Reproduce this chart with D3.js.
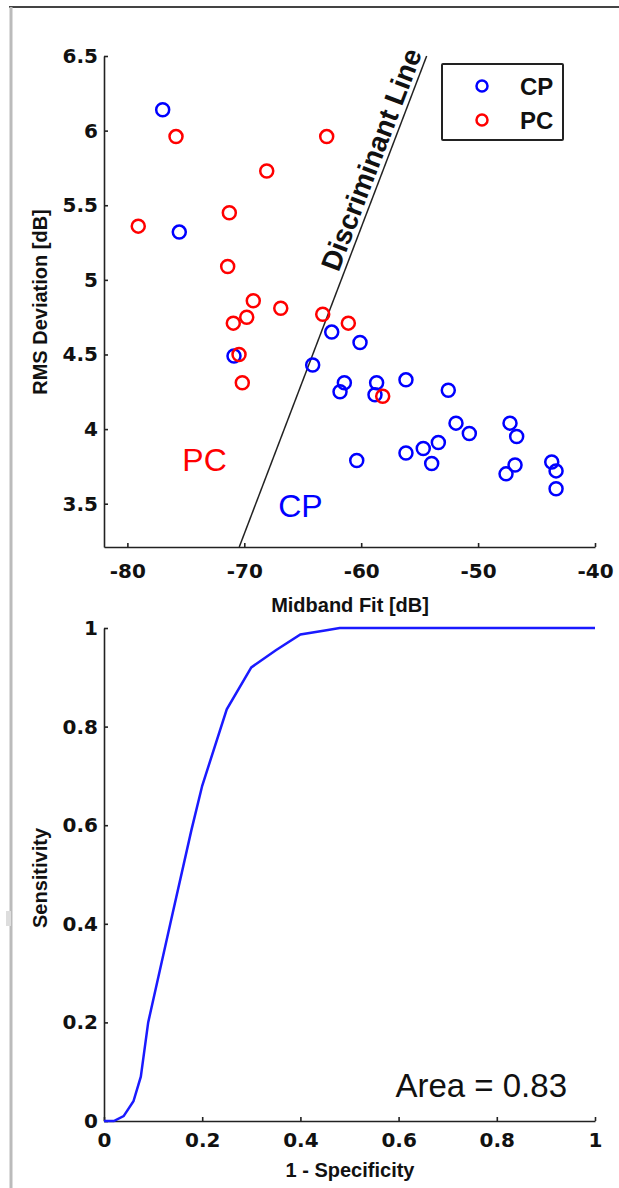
<!DOCTYPE html>
<html lang="en">
<head>
    <meta charset="UTF-8">
    <title>Midband Fit vs RMS Deviation and ROC</title>
    <script src="https://d3js.org/d3.v7.min.js"></script>
    <style>
        body { margin: 0; background: #fff; }
        svg { display: block; font-family: "Liberation Sans", Arial, Helvetica, sans-serif; }
        .axis path, .axis line { stroke: #222; stroke-width: 1.6; }
        .axis text { font-family: "DejaVu Sans", sans-serif; font-size: 20px; font-weight: bold; fill: #111; }
        .label { font-size: 20px; font-weight: bold; fill: #111; }
    </style>
</head>
<body>
    <div id="chart"></div>

    <script>
        const width = 619;
        const height = 1188;

        // scatter data: midband fit [dB] vs RMS deviation [dB]
        const cpMidband = [-76.98, -75.56, -70.88, -62.52, -60.10, -64.15, -61.44, -61.81, -58.68, -58.82,
                           -56.17, -52.55, -51.89, -50.75, -47.27, -46.70, -60.38, -56.17, -54.69, -53.40,
                           -53.97, -46.84, -47.61, -43.70, -43.33, -43.33];
        const cpRms     = [6.14, 5.32, 4.49, 4.65, 4.58, 4.43, 4.31, 4.25, 4.31, 4.23,
                           4.33, 4.26, 4.04, 3.97, 4.04, 3.95, 3.79, 3.84, 3.87, 3.91,
                           3.77, 3.76, 3.70, 3.78, 3.72, 3.60];
        const pcMidband = [-75.84, -62.95, -68.08, -71.28, -79.07, -71.42, -69.23, -66.88, -69.79, -70.94,
                           -63.29, -61.10, -70.45, -70.17, -58.16];
        const pcRms     = [5.96, 5.96, 5.73, 5.45, 5.36, 5.09, 4.86, 4.81, 4.75, 4.71,
                           4.77, 4.71, 4.50, 4.31, 4.22];

        // discriminant line end points
        const discMidband = [-70.43, -54.40];
        const discRms = [3.21, 6.50];

        // ROC curve
        const rocFpr = [0, 0.02, 0.04, 0.06, 0.075, 0.09, 0.135, 0.178, 0.2, 0.25, 0.3, 0.35, 0.4, 0.45, 0.48, 1];
        const rocTpr = [0, 0, 0.01, 0.04, 0.09, 0.20, 0.40, 0.59, 0.68, 0.835, 0.92, 0.955, 0.987, 0.995, 1, 1];

        const topXTicks = [-80, -70, -60, -50, -40];
        const topYTicks = [3.5, 4, 4.5, 5, 5.5, 6, 6.5];
        const rocTicks = [0, 0.2, 0.4, 0.6, 0.8, 1];

        const svg = d3.select("#chart")
                      .append("svg")
                      .attr("width", width)
                      .attr("height", height);

        // page frame
        svg.append("line").attr("x1", 9).attr("x2", width).attr("y1", 7).attr("y2", 7)
           .attr("stroke", "#444").attr("stroke-width", 2);
        svg.append("line").attr("x1", 11).attr("x2", 11).attr("y1", 7).attr("y2", height)
           .attr("stroke", "#bbb").attr("stroke-width", 3);
        svg.append("rect").attr("x", 6).attr("y", 911).attr("width", 5).attr("height", 15)
           .attr("fill", "#ddd");

        // ---- top scatter plot ----
        const x1 = d3.scaleLinear().domain([-82, -40]).range([104, 595]);
        const y1 = d3.scaleLinear().domain([3.21, 6.5]).range([547, 56]);

        svg.append("g")
           .attr("class", "axis")
           .attr("transform", "translate(0,547)")
           .call(d3.axisBottom(x1).tickValues(topXTicks).tickSize(-4).tickSizeOuter(0)
                   .tickPadding(17).tickFormat(d => String(d)));

        svg.append("g")
           .attr("class", "axis")
           .attr("transform", "translate(104,0)")
           .call(d3.axisLeft(y1).tickValues(topYTicks).tickSize(-4).tickSizeOuter(0)
                   .tickPadding(6).tickFormat(d => String(d)));

        svg.append("text").attr("class", "label")
           .attr("x", 350).attr("y", 612).attr("text-anchor", "middle")
           .attr("font-size", 21)
           .text("Midband Fit [dB]");
        svg.append("text").attr("class", "label")
           .attr("transform", "translate(47,302) rotate(-90)")
           .attr("text-anchor", "middle")
           .text("RMS Deviation [dB]");

        // discriminant line
        const p1 = [x1(discMidband[0]), y1(discRms[0])];
        const p2 = [x1(discMidband[1]), y1(discRms[1])];
        svg.append("line")
           .attr("x1", p1[0]).attr("y1", p1[1])
           .attr("x2", p2[0]).attr("y2", p2[1])
           .attr("stroke", "#222").attr("stroke-width", 1.5);

        const angle = Math.atan2(p2[1] - p1[1], p2[0] - p1[0]) * 180 / Math.PI;
        const t = 0.555;
        const tx = p1[0] + t * (p2[0] - p1[0]);
        const ty = p1[1] + t * (p2[1] - p1[1]);
        svg.append("text")
           .attr("transform", `translate(${tx},${ty}) rotate(${angle})`)
           .attr("y", -5)
           .attr("font-size", 28)
           .attr("font-weight", "bold")
           .attr("fill", "#111")
           .text("Discriminant Line");

        const cp = cpMidband.map((m, i) => ({ m: m, r: cpRms[i] }));
        const pc = pcMidband.map((m, i) => ({ m: m, r: pcRms[i] }));

        svg.append("g").selectAll("circle")
           .data(cp).enter().append("circle")
           .attr("cx", d => x1(d.m)).attr("cy", d => y1(d.r)).attr("r", 6.5)
           .attr("fill", "none").attr("stroke", "#0000ff").attr("stroke-width", 2.5);

        svg.append("g").selectAll("circle")
           .data(pc).enter().append("circle")
           .attr("cx", d => x1(d.m)).attr("cy", d => y1(d.r)).attr("r", 6.5)
           .attr("fill", "none").attr("stroke", "#ff0000").attr("stroke-width", 2.5);

        // region labels
        svg.append("text")
           .attr("x", x1(-75.3)).attr("y", y1(3.72))
           .attr("font-size", 32).attr("fill", "#ff0000")
           .text("PC");
        svg.append("text")
           .attr("x", x1(-67.1)).attr("y", y1(3.41))
           .attr("font-size", 32).attr("fill", "#0000ff")
           .text("CP");

        // legend
        const legend = svg.append("g");
        legend.append("rect").attr("x", 442).attr("y", 64).attr("width", 121).attr("height", 76)
              .attr("fill", "#fff").attr("stroke", "#222").attr("stroke-width", 2).attr("rx", 1);
        [["CP", "#0000ff", 86], ["PC", "#ff0000", 120]].forEach(([name, col, yy]) => {
            legend.append("circle").attr("cx", 482).attr("cy", yy).attr("r", 5.5)
                  .attr("fill", "none").attr("stroke", col).attr("stroke-width", 2.5);
            legend.append("text").attr("x", 520).attr("y", yy + 9)
                  .attr("font-size", 24).attr("font-weight", "bold").attr("fill", "#111")
                  .text(name);
        });

        // ---- bottom ROC plot ----
        const x2 = d3.scaleLinear().domain([0, 1]).range([104, 595]);
        const y2 = d3.scaleLinear().domain([0, 1]).range([1121, 628]);

        svg.append("g")
           .attr("class", "axis")
           .attr("transform", "translate(0,1121)")
           .call(d3.axisBottom(x2).tickValues(rocTicks).tickSize(-4).tickSizeOuter(0)
                   .tickPadding(12).tickFormat(d => String(d)));

        svg.append("g")
           .attr("class", "axis")
           .attr("transform", "translate(104,0)")
           .call(d3.axisLeft(y2).tickValues(rocTicks).tickSize(-4).tickSizeOuter(0)
                   .tickPadding(6).tickFormat(d => String(d)));

        svg.append("text").attr("class", "label")
           .attr("x", 350).attr("y", 1177).attr("text-anchor", "middle")
           .text("1 - Specificity");
        svg.append("text").attr("class", "label")
           .attr("transform", "translate(47,878) rotate(-90)")
           .attr("text-anchor", "middle")
           .text("Sensitivity");

        const roc = rocFpr.map((f, i) => [f, rocTpr[i]]);
        svg.append("path")
           .datum(roc)
           .attr("d", d3.line().x(d => x2(d[0])).y(d => y2(d[1])))
           .attr("fill", "none")
           .attr("stroke", "#1a1aff")
           .attr("stroke-width", 2.5);

        svg.append("text")
           .attr("x", 567).attr("y", 1097).attr("text-anchor", "end")
           .attr("font-size", 33).attr("fill", "#111")
           .text("Area = 0.83");
    </script>
</body>
</html>
